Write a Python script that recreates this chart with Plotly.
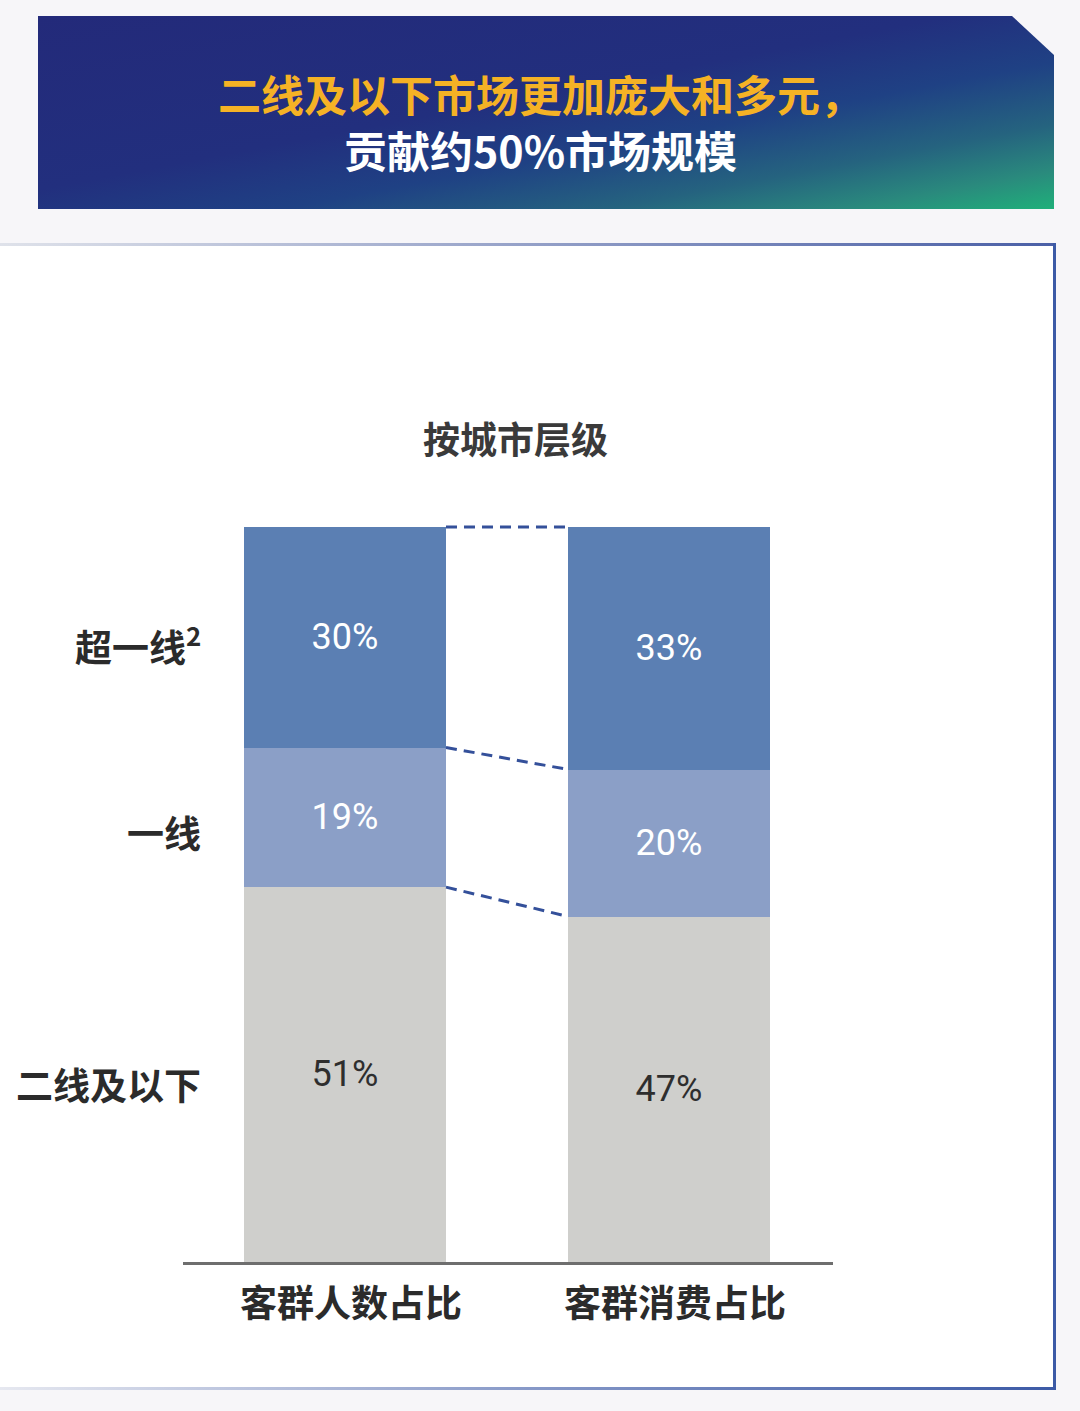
import base64
import plotly.graph_objects as go

# ---------------- data ----------------
categories = ["客群人数占比", "客群消费占比"]
tiers = ["二线及以下", "一线", "超一线"]          # stacking order, bottom -> top
tier_labels = ["二线及以下", "一线", "超一线<sup>2</sup>"]
values = {
    "二线及以下": [51, 47],
    "一线": [19, 20],
    "超一线": [30, 33],
}
headline_1 = "二线及以下市场更加庞大和多元，"
headline_2 = "贡献约50%市场规模"
chart_title = "按城市层级"

# ---------------- styling ----------------
W, H = 1080, 1411
colors = {"二线及以下": "#cfcfcc", "一线": "#8b9fc7", "超一线": "#5b7fb3"}
text_colors = {"二线及以下": "#2e2e2e", "一线": "#ffffff", "超一线": "#ffffff"}
CJK = "Noto Sans CJK SC"
bar_width = 0.6225

# plot area in pixels (y range extends a little above 100 so the top connector is not clipped)
px_left, px_right = 183, 833
px_base = 1262
px_per_unit = 7.35
y_max = 101.5
px_top = px_base - px_per_unit * y_max
x_range = [-0.4992, 1.5039]

# ---------------- background decoration (SVG) ----------------
svg = f'''<svg xmlns="http://www.w3.org/2000/svg" width="{W}" height="{H}" viewBox="0 0 {W} {H}">
<defs>
 <linearGradient id="ban" x1="0" y1="0" x2="1" y2="1">
  <stop offset="0" stop-color="#232a7a"/>
  <stop offset="0.45" stop-color="#222f7e"/>
  <stop offset="0.62" stop-color="#1f4184"/>
  <stop offset="0.78" stop-color="#25637f"/>
  <stop offset="0.9" stop-color="#2a8a7d"/>
  <stop offset="1" stop-color="#1fb07a"/>
 </linearGradient>
 <linearGradient id="topl" x1="0" y1="0" x2="1" y2="0">
  <stop offset="0" stop-color="#dfe2ea"/>
  <stop offset="1" stop-color="#4a5fa6"/>
 </linearGradient>
 <linearGradient id="botl" x1="0" y1="0" x2="1" y2="0">
  <stop offset="0" stop-color="#e6e8f0"/>
  <stop offset="0.5" stop-color="#8799c8"/>
  <stop offset="1" stop-color="#3c5aa6"/>
 </linearGradient>
</defs>
<rect x="0" y="0" width="{W}" height="{H}" fill="#f7f6f9"/>
<polygon points="38,16 1012,16 1054,55 1054,209 38,209" fill="url(#ban)"/>
<rect x="0" y="245" width="1055" height="1145" fill="#ffffff"/>
<rect x="0" y="243" width="1056" height="3" fill="url(#topl)"/>
<rect x="0" y="1387" width="1056" height="3" fill="url(#botl)"/>
<rect x="1053" y="243" width="3" height="1147" fill="#3c5aa6"/>
</svg>'''
svg_uri = "data:image/svg+xml;base64," + base64.b64encode(svg.encode("utf-8")).decode("ascii")

fig = go.Figure()

# ---------------- stacked bars ----------------
xs = list(range(len(categories)))
for t in tiers:
    fig.add_trace(go.Bar(
        x=xs, y=values[t], width=bar_width, name=t,
        marker=dict(color=colors[t], line=dict(width=0)),
        text=[f"{v}%" for v in values[t]],
        textposition="inside", insidetextanchor="middle", textangle=0,
        textfont=dict(family="Roboto", size=36, color=text_colors[t]),
        hoverinfo="skip", showlegend=False,
    ))

# ---------------- dashed connectors between bars ----------------
cum = {}
running = [0] * len(categories)
for t in tiers:
    running = [r + v for r, v in zip(running, values[t])]
    cum[t] = running[:]
for t in tiers:
    fig.add_trace(go.Scatter(
        x=[xs[0] + bar_width / 2, xs[1] - bar_width / 2],
        y=[cum[t][0], cum[t][1]],
        mode="lines", line=dict(color="#34509a", width=3, dash="11px,7px"),
        hoverinfo="skip", showlegend=False,
    ))

# ---------------- annotations ----------------
ann = []
# row labels at the average of segment centres
base = [0] * len(categories)
for t, lab in zip(tiers, tier_labels):
    centres = [b + v / 2 for b, v in zip(base, values[t])]
    base = [b + v for b, v in zip(base, values[t])]
    ann.append(dict(
        text=f"<b>{lab}</b>", xref="paper", yref="y",
        x=203 / W, y=sum(centres) / len(centres), xanchor="right", yanchor="middle",
        yshift=-2,
        showarrow=False, font=dict(family=CJK, size=37, color="#2b2b2b"),
    ))
# category labels
for i, c in enumerate(categories):
    ann.append(dict(
        text=f"<b>{c}</b>", xref="x", yref="paper",
        x=i, y=1 - 1301 / H, xanchor="center", yanchor="middle", xshift=6,
        showarrow=False, font=dict(family=CJK, size=37, color="#2b2b2b"),
    ))
# chart title
ann.append(dict(
    text=f"<b>{chart_title}</b>", xref="paper", yref="paper",
    x=515 / W, y=1 - 438 / H, xanchor="center", yanchor="middle",
    showarrow=False, font=dict(family=CJK, size=37, color="#3a3a3a"),
))
# banner headline (two lines, one text block)
ann.append(dict(
    text=(f"<b><span style='color:#f5b225'>{headline_1}</span><br>"
          f"<span style='color:#ffffff'>{headline_2}</span></b>"),
    xref="paper", yref="paper",
    x=540 / W, y=1 - 121 / H, xanchor="center", yanchor="middle", align="center",
    showarrow=False, font=dict(family=CJK, size=43, color="#ffffff"),
))

fig.update_layout(
    width=W, height=H, autosize=False,
    margin=dict(l=0, r=0, t=0, b=0, pad=0),
    paper_bgcolor="#f7f6f9", plot_bgcolor="rgba(0,0,0,0)",
    barmode="stack", bargap=0,
    images=[dict(source=svg_uri, xref="paper", yref="paper", x=0, y=1,
                 sizex=1, sizey=1, xanchor="left", yanchor="top",
                 sizing="stretch", layer="below")],
    xaxis=dict(domain=[px_left / W, px_right / W], range=x_range,
               showgrid=False, zeroline=False, showticklabels=False,
               ticks="", showline=True, linecolor="#6e6e6e", linewidth=3),
    yaxis=dict(domain=[1 - px_base / H, 1 - px_top / H], range=[0, y_max],
               showgrid=False, zeroline=False, showticklabels=False,
               ticks="", showline=False),
    annotations=ann,
)

fig.write_html("out.html")
